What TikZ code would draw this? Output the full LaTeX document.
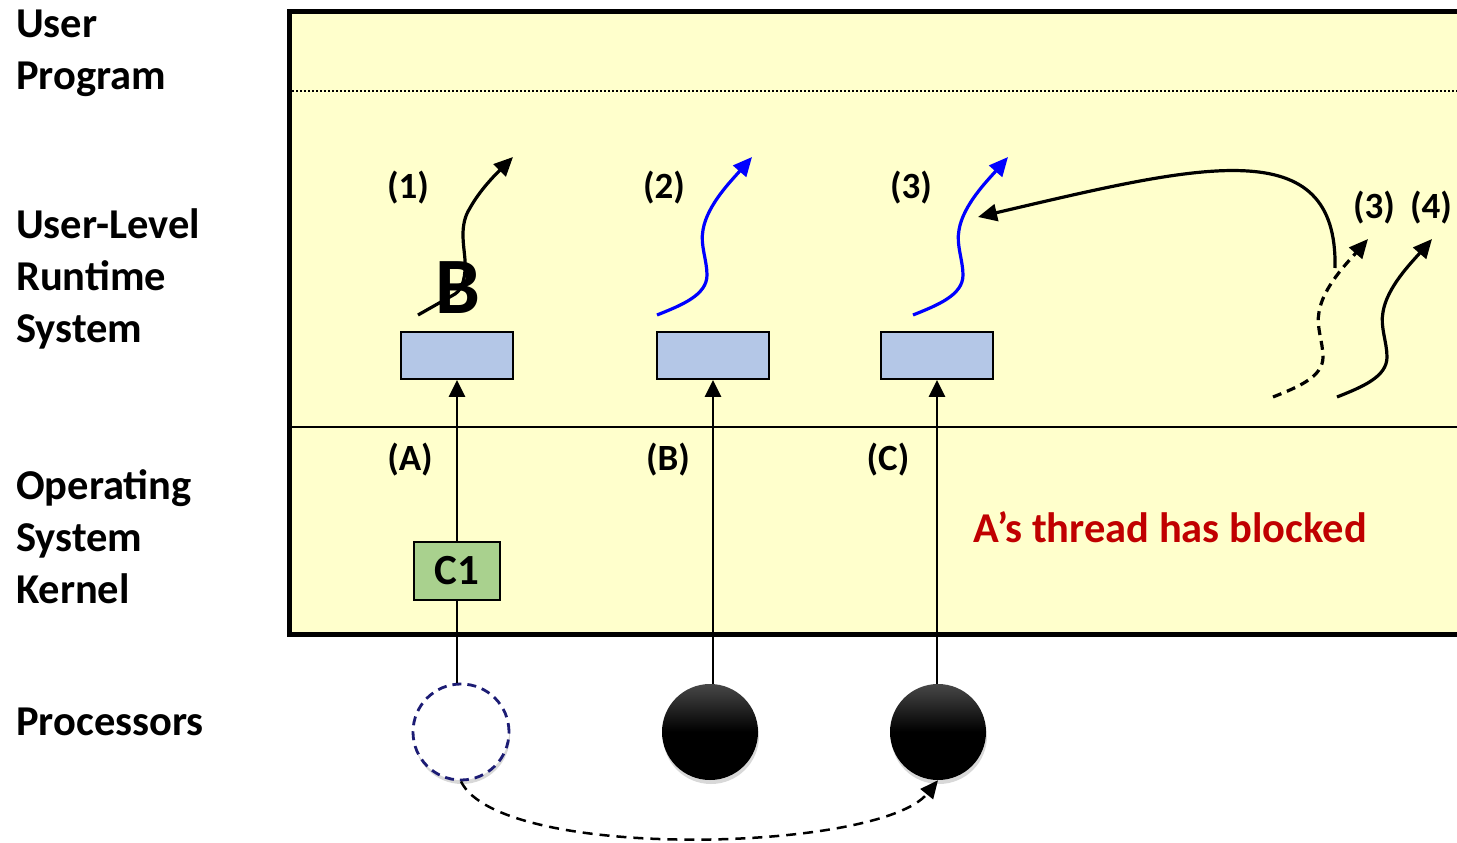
\documentclass[tikz,border=0pt]{standalone}
\usepackage{fontspec}
\setmainfont{Carlito}
\usetikzlibrary{arrows.meta,shadows}
\definecolor{bgyellow}{HTML}{FFFFCC}
\definecolor{tblue}{HTML}{B4C7E7}
\definecolor{cgreen}{HTML}{A9D18E}
\definecolor{redtxt}{HTML}{C00000}
\definecolor{navyc}{HTML}{1C1C74}
\tikzset{
  pics/thread/.style={code={
    \draw[pic actions] (0,0) .. controls (25,-10) and (50,-20) .. (50,-40)
      .. controls (50,-55) and (43,-70) .. (46,-85)
      .. controls (50,-110) and (75,-135) .. (95,-158);}},
  sidelbl/.style={anchor=north west, inner sep=0pt, align=left,
    font=\fontsize{42.5}{52}\selectfont\bfseries},
  numlbl/.style={inner sep=0pt, font=\fontsize{37}{44}\selectfont\bfseries},
  ultbox/.style={draw, line width=1.8pt, fill=tblue, minimum width=112pt,
    minimum height=47pt, inner sep=0pt},
  thrtip/.style={-{Triangle[length=19pt,width=17pt]}},
  blackthr/.style={line width=3.2pt, black, thrtip},
  bluethr/.style={line width=3.2pt, blue, thrtip},
  kthread/.style={line width=2.5pt, -{Triangle[length=17pt,width=16pt]}},
  procfull/.style={circle, minimum size=96pt, inner sep=0pt,
    top color=black!72, bottom color=black, middle color=black,
    drop shadow={opacity=0.3, shadow xshift=1pt, shadow yshift=-4pt}},
  procempty/.style={circle, minimum size=96pt, inner sep=0pt, fill=white,
    draw=navyc, line width=2.8pt, dash pattern=on 9pt off 6pt,
    drop shadow={opacity=0.3, shadow xshift=1pt, shadow yshift=-4pt}},
}
\begin{document}
\begin{tikzpicture}[x=1pt,y=-1pt]
\useasboundingbox (0,0) rectangle (1457,843);
\fill[white] (0,0) rectangle (1457,843);
% main area
\draw[line width=5.5pt, fill=bgyellow] (289.5,11.5) rectangle (1475,634.5);
\draw[line width=1.5pt, dash pattern=on 1.5pt off 2.5pt] (292,91) -- (1457,91);
\draw[line width=1.8pt] (292,427) -- (1457,427);

% side labels
\node[sidelbl] (lup) at (16,10) {User\\Program};
\node[sidelbl] (lrt) at (16,208) {User-Level\\Runtime\\System};
\node[sidelbl] (los) at (16,469) {Operating\\System\\Kernel};
\node[sidelbl] (lpr) at (16,708) {Processors};

% user-level thread boxes
\node[ultbox] (t1) at (457,355.5) {};
\node[ultbox] (t2) at (713,355.5) {};
\node[ultbox] (t3) at (937,355.5) {};

% processors
\node[procempty] (p1) at (461,732) {};
\node[procfull] (p2) at (710,732) {};
\node[procfull] (p3) at (938,732) {};

% kernel threads
\draw[kthread] (t1.south |- p1.north) -- (t1.south);
\draw[kthread] (t2.south |- p2.north) -- (t2.south);
\draw[kthread] (t3.south |- p3.north) -- (t3.south);

\node[draw, line width=1.8pt, fill=cgreen, minimum width=86pt, minimum height=58pt,
  inner sep=0pt, font=\fontsize{43}{50}\selectfont\bfseries] (c1) at (457,571) {C1};

% labels
\node[numlbl] (n1) at (408,188) {(1)};
\node[numlbl] (n2) at (664,188) {(2)};
\node[numlbl] (n3) at (911,188) {(3)};
\node[numlbl] (n3b) at (1374,208) {(3)};
\node[numlbl] (n4) at (1431,208) {(4)};
\node[numlbl] (la) at (410,460) {(A)};
\node[numlbl] (lb) at (668,460) {(B)};
\node[numlbl] (lc) at (888,460) {(C)};
\node[inner sep=0pt, anchor=west, text=redtxt,
  font=\fontsize{42.5}{50}\selectfont\bfseries] (blk) at (973,527) {A’s thread has blocked};

% thread (1) with B
\draw[blackthr] (418,315) -- (455,294) .. controls (463,289) and (466,275) .. (465,260)
  .. controls (464,245) and (459,225) .. (470,208)
  .. controls (480,190) and (495,175) .. (513,157);
\node[inner sep=0pt, font=\fontsize{80}{90}\selectfont\bfseries] (bb) at (458,288) {B};

% threads (2), (3)
\pic[bluethr] (th2) at (657,315) {thread};
\pic[bluethr] (th3) at (913,315) {thread};
% threads on right
\pic[blackthr, dash pattern=on 9pt off 6pt] (th3b) at (1273,397) {thread};
\pic[blackthr] (th4) at (1337,397) {thread};

% long arrow to (3)
\coordinate (ls) at (1335,268);
\coordinate (le) at (978,217);
\draw[blackthr] (ls) .. controls (1338,130) and (1200,165) .. (le);

% migration arrow
\draw[line width=2.5pt, dash pattern=on 10pt off 7pt, -{Triangle[length=18pt,width=16pt]}]
  (p1.south) .. controls (500,862) and (880,852) .. (p3.south);
\end{tikzpicture}
\end{document}
